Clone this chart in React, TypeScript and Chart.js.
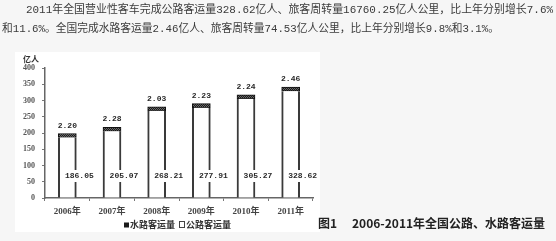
import React, { useEffect, useRef } from "react";
import { Chart, registerables } from "chart.js";

Chart.register(...registerables);

const categories = ["2006年", "2007年", "2008年", "2009年", "2010年", "2011年"];
const roadValues = [186.05, 205.07, 268.21, 277.91, 305.27, 328.62];
const waterValues = [2.2, 2.28, 2.03, 2.23, 2.24, 2.46];
const roadLabels = ["186.05", "205.07", "268.21", "277.91", "305.27", "328.62"];
const waterLabels = ["2.20", "2.28", "2.03", "2.23", "2.24", "2.46"];
const yMin = 0;
const yMax = 400;
const yStep = 50;
const seriesNames = ["水路客运量", "公路客运量"];
const unitLabel = "亿人";
const headerLine1 = "2011年全国营业性客车完成公路客运量328.62亿人、旅客周转量16760.25亿人公里，比上年分别增长7.6%";
const headerLine2 = "和11.6%。全国完成水路客运量2.46亿人、旅客周转量74.53亿人公里，比上年分别增长9.8%和3.1%。";
const figureNo = "图1";
const figureTitle = "2006-2011年全国公路、水路客运量";

const MONO = '"Liberation Mono", "Noto Sans CJK SC", monospace';
const CJK = '"Noto Sans CJK SC", "Liberation Sans", sans-serif';
const SERIF = '"Liberation Serif", "Noto Sans CJK SC", serif';

function makePattern(): CanvasPattern | string {
  const c = document.createElement("canvas");
  c.width = 2;
  c.height = 2;
  const x = c.getContext("2d");
  if (!x) return "#1a1a1a";
  x.fillStyle = "#1a1a1a";
  x.fillRect(0, 0, 2, 2);
  x.fillStyle = "#6a6a6a";
  x.fillRect(0, 0, 1, 1);
  x.fillRect(1, 1, 1, 1);
  const p = x.createPattern(c, "repeat");
  return p || "#1a1a1a";
}

const customPlugin = {
  id: "customDecor",
  beforeDraw(chart: any) {
    const ctx = chart.ctx as CanvasRenderingContext2D;
    const w = chart.width;
    const h = chart.height;
    ctx.save();
    ctx.fillStyle = "#f6f6f6";
    ctx.fillRect(0, 0, w, h);
    ctx.fillStyle = "#ffffff";
    ctx.fillRect(15, 52, 305, 180);
    ctx.fillStyle = "#3a3a3a";
    ctx.font = `11px ${MONO}`;
    ctx.textBaseline = "middle";
    ctx.textAlign = "left";
    ctx.fillText(headerLine1, 26, 10, 527);
    ctx.fillText(headerLine2, 2, 29, 497);
    ctx.restore();
  },
  afterDatasetsDraw(chart: any) {
    const ctx = chart.ctx as CanvasRenderingContext2D;
    const area = chart.chartArea;
    const roadMeta = chart.getDatasetMeta(0);
    const waterMeta = chart.getDatasetMeta(1);
    ctx.save();
    ctx.textAlign = "center";
    ctx.textBaseline = "middle";
    ctx.font = `bold 8px ${MONO}`;
    ctx.fillStyle = "#2a2a2a";
    waterMeta.data.forEach((bar: any, i: number) => {
      ctx.fillText(waterLabels[i], bar.x, bar.y - 8);
    });
    roadMeta.data.forEach((bar: any, i: number) => {
      const tx = bar.x + 12;
      const ty = area.bottom - 22;
      const tw = ctx.measureText(roadLabels[i]).width;
      ctx.fillStyle = "#ffffff";
      ctx.fillRect(tx - tw / 2 - 1, ty - 6, tw + 2, 12);
      ctx.fillStyle = "#2a2a2a";
      ctx.fillText(roadLabels[i], tx, ty);
    });
    ctx.font = `bold 8px ${CJK}`;
    ctx.textAlign = "left";
    ctx.fillStyle = "#333";
    ctx.fillText(unitLabel, 23, 59);
    const ly = 225;
    ctx.font = `bold 9px ${CJK}`;
    ctx.fillStyle = "#1a1a1a";
    ctx.fillRect(124, ly - 2.5, 5, 5);
    ctx.fillStyle = "#333";
    ctx.fillText(seriesNames[0], 130, ly);
    ctx.strokeStyle = "#444";
    ctx.lineWidth = 1;
    ctx.strokeRect(179.5, ly - 3.5, 5, 6);
    ctx.fillText(seriesNames[1], 186, ly);
    ctx.font = `bold 12px ${CJK}`;
    ctx.fillStyle = "#222";
    ctx.fillText(figureNo, 318, 223);
    ctx.fillText(figureTitle, 352, 223);
    ctx.restore();
  },
};

export default function App() {
  const ref = useRef<HTMLCanvasElement>(null);
  useEffect(() => {
    document.body.style.margin = "0";
    const canvas = ref.current;
    if (!canvas) return;
    const pattern = makePattern();
    const chart = new Chart(canvas, {
      type: "bar",
      data: {
        labels: categories,
        datasets: [
          {
            label: seriesNames[1],
            data: roadValues,
            backgroundColor: "#ffffff",
            borderColor: "#3a3a3a",
            borderWidth: { top: 0, left: 2, right: 2, bottom: 0 },
            barThickness: 18,
            stack: "s",
          },
          {
            label: seriesNames[0],
            data: waterValues,
            backgroundColor: pattern as any,
            borderColor: "#111",
            borderWidth: 1,
            borderSkipped: false,
            minBarLength: 4,
            barThickness: 18,
            stack: "s",
          },
        ],
      },
      options: {
        responsive: false,
        animation: false,
        devicePixelRatio: 1,
        layout: { padding: { left: 13, right: 243, top: 68, bottom: 23 } },
        plugins: {
          legend: { display: false },
          tooltip: { enabled: false },
          title: { display: false },
        },
        scales: {
          x: {
            stacked: true,
            afterFit: (s: any) => {
              s.height = 20;
            },
            grid: {
              offset: true,
              drawOnChartArea: false,
              drawTicks: true,
              tickLength: 3,
              color: "#777",
            },
            border: { display: true, color: "#666", width: 1.5 },
            ticks: {
              color: "#444",
              font: { family: SERIF, size: 9, weight: "bold" },
              padding: 5,
            },
          },
          y: {
            stacked: true,
            min: yMin,
            max: yMax,
            afterFit: (s: any) => {
              s.width = 32;
            },
            grid: {
              drawOnChartArea: false,
              drawTicks: true,
              tickLength: 3,
              color: "#777",
            },
            border: { display: true, color: "#666", width: 1.5 },
            ticks: {
              stepSize: yStep,
              color: "#555",
              font: { family: SERIF, size: 8, weight: "bold" },
              padding: 7,
            },
          },
        },
      },
      plugins: [customPlugin],
    });
    return () => chart.destroy();
  }, []);
  return <canvas ref={ref} width={556} height={241} style={{ display: "block" }} />;
}
